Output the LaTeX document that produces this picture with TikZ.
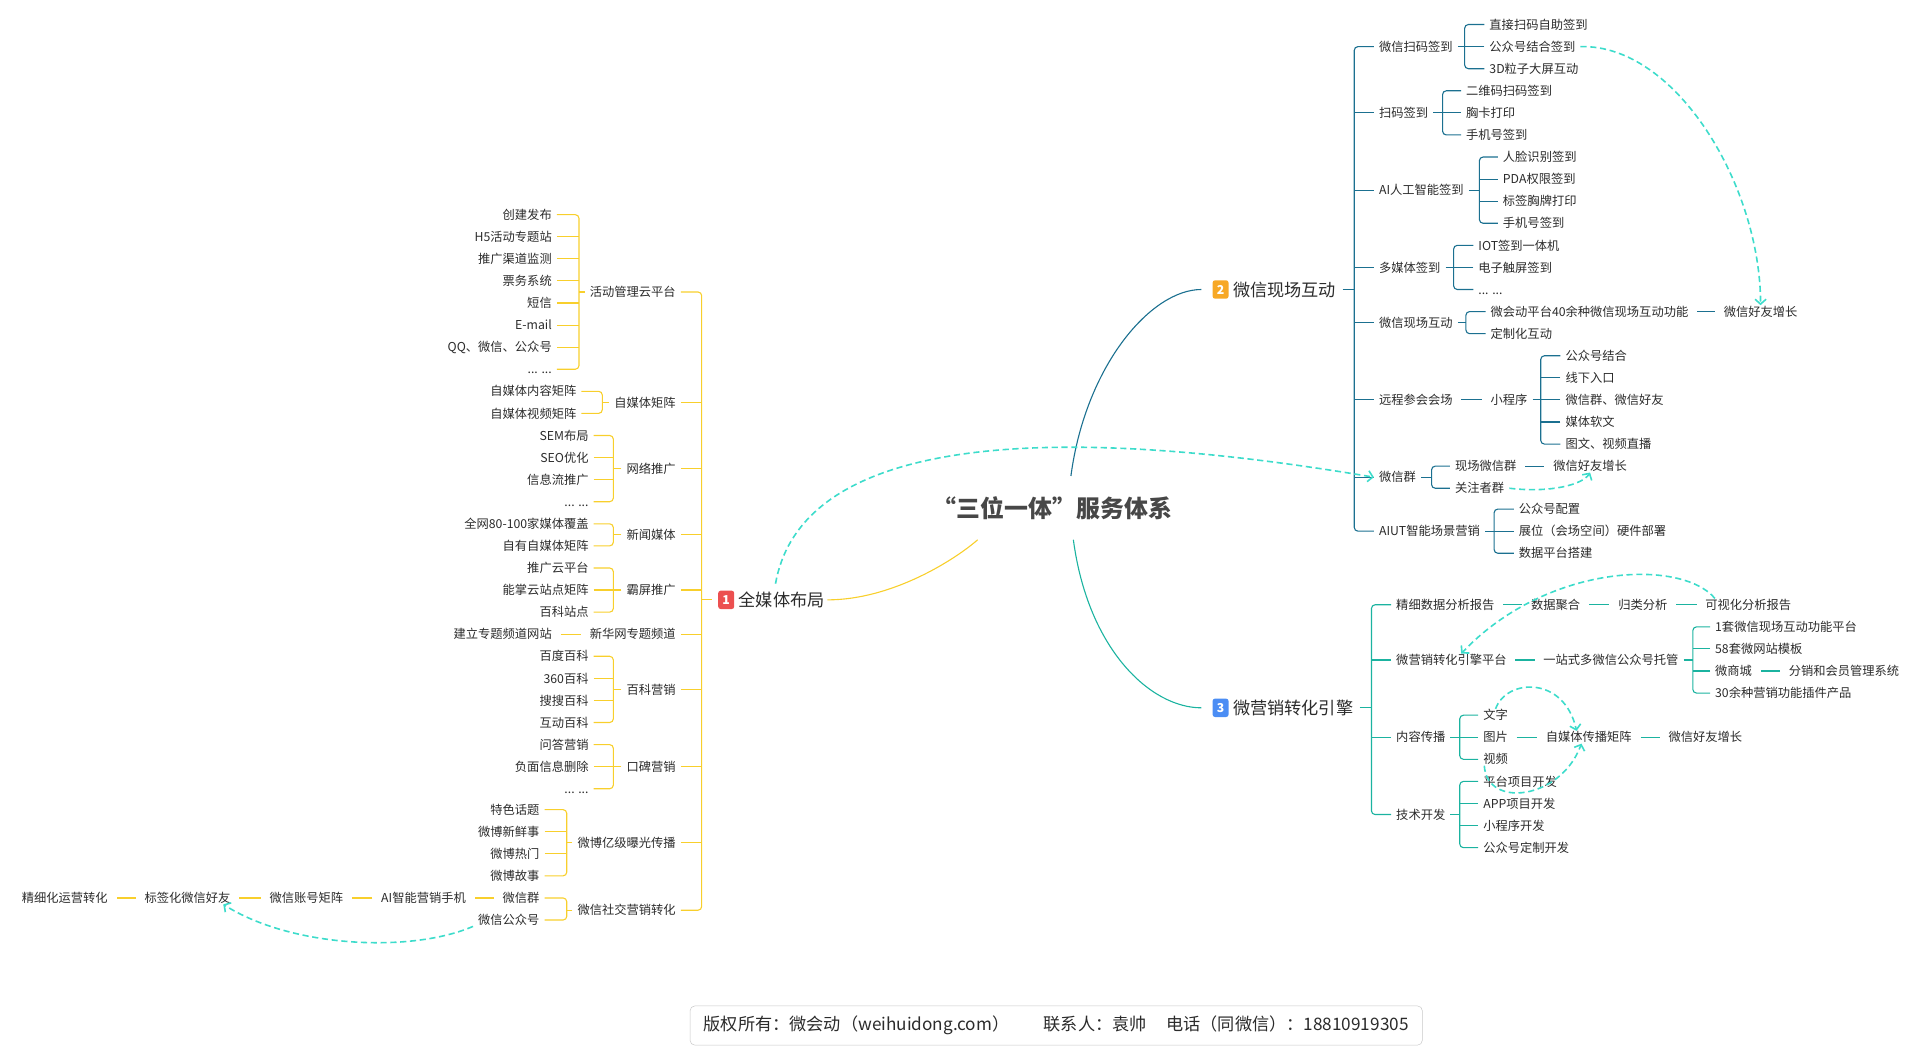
\documentclass[tikz,border=0pt]{standalone}
\usepackage{fontspec}
\setmainfont{Noto Sans CJK SC}
\usepackage{xcolor}
\usetikzlibrary{arrows.meta,calc}
\definecolor{ylw}{HTML}{F8CF2C}
\definecolor{tealdk}{HTML}{1B7090}
\definecolor{tealgr}{HTML}{1BB3A0}
\definecolor{dashc}{HTML}{3DDCCB}
\definecolor{bred}{HTML}{EC5050}
\definecolor{borg}{HTML}{F7A825}
\definecolor{bblu}{HTML}{4B8DF4}
\definecolor{txt}{HTML}{2B2B2B}
\tikzset{
	leaf/.style={font=\fontsize{10}{12}\selectfont, text=txt, inner xsep=4pt, inner ysep=0pt, text height=8.8pt, text depth=1.2pt},
	lleaf/.style={leaf, anchor=east},
	rleaf/.style={leaf, anchor=west},
	main/.style={font=\fontsize{14}{16}\selectfont, text=txt, inner xsep=2pt, inner ysep=0pt, text height=12.3pt, text depth=1.7pt, anchor=west},
	badge/.style={fill=#1, rounded corners=2pt, text=white, font=\fontsize{10}{12}\selectfont\bfseries, minimum width=13pt, minimum height=15pt, inner sep=0pt},
	br1/.style={draw=ylw, line width=0.9pt, rounded corners=3pt},
	br2/.style={draw=tealdk, line width=0.9pt, rounded corners=3pt},
	br3/.style={draw=tealgr, line width=0.9pt, rounded corners=3pt},
	gap/.style={shorten <=3pt, shorten >=3pt},
	hint/.style={draw=dashc, line width=1.3pt, dash pattern=on 5pt off 3pt, -{Straight Barb[length=4pt,width=9pt]}}
}

\begin{document}
\begin{tikzpicture}[x=1pt,y=-1pt]
	\useasboundingbox (0,0) rectangle (1566,865);

	% centre and the three branches
	\node[font=\fontsize{19.5}{21}\selectfont\bfseries, text=black!72, inner sep=0pt] (ti) at (858,414) {“三位一体”服务体系};
	\node[badge=bred] (b1) at (592,489) {1};
	\node[main] (m1) at (600,489) {全媒体布局};
	\node[badge=borg] (b2) at (995,236) {2};
	\node[main] (m2) at (1003,236) {微信现场互动};
	\node[badge=bblu] (b3) at (995,577) {3};
	\node[main] (m3) at (1003,577) {微营销转化引擎};

	\draw[ylw, line width=0.9pt] ($(ti)+(-61,26)$) .. controls +(-17,15) and +(54,0) .. (m1.east);
	\draw[tealdk, line width=0.9pt, shorten >=9pt] ($(ti)+(15,-26)$) .. controls +(12,-90) and +(-50,0) .. (b2.west);
	\draw[tealgr, line width=0.9pt, shorten >=9pt] ($(ti)+(17,26)$) .. controls +(12,90) and +(-50,0) .. (b3.west);

	% branch 1
	\node[lleaf] (a1) at (555,238) {活动管理云平台};
	\node[lleaf] (a2) at (555,328) {自媒体矩阵};
	\node[lleaf] (a3) at (555,382) {网络推广};
	\node[lleaf] (a4) at (555,436) {新闻媒体};
	\node[lleaf] (a5) at (555,481) {霸屏推广};
	\node[lleaf] (a6) at (555,517) {新华网专题频道};
	\node[lleaf] (a7) at (555,562) {百科营销};
	\node[lleaf] (a8) at (555,625) {口碑营销};
	\node[lleaf] (a9) at (555,687) {微博亿级曝光传播};
	\node[lleaf] (a10) at (555,742) {微信社交营销转化};

	\node[lleaf] (a1-1) at (454,175) {创建发布};
	\node[lleaf] (a1-2) at (454,193) {H5活动专题站};
	\node[lleaf] (a1-3) at (454,211) {推广渠道监测};
	\node[lleaf] (a1-4) at (454,229) {票务系统};
	\node[lleaf] (a1-5) at (454,247) {短信};
	\node[lleaf] (a1-6) at (454,265) {E-mail};
	\node[lleaf] (a1-7) at (454,283) {QQ、微信、公众号};
	\node[lleaf] (a1-8) at (454,301) {... ...};
	\node[lleaf] (a2-1) at (474,319) {自媒体内容矩阵};
	\node[lleaf] (a2-2) at (474,337) {自媒体视频矩阵};
	\node[lleaf] (a3-1) at (484,355) {SEM布局};
	\node[lleaf] (a3-2) at (484,373) {SEO优化};
	\node[lleaf] (a3-3) at (484,391) {信息流推广};
	\node[lleaf] (a3-4) at (484,409) {... ...};
	\node[lleaf] (a4-1) at (484,427) {全网80-100家媒体覆盖};
	\node[lleaf] (a4-2) at (484,445) {自有自媒体矩阵};
	\node[lleaf] (a5-1) at (484,463) {推广云平台};
	\node[lleaf] (a5-2) at (484,481) {能掌云站点矩阵};
	\node[lleaf] (a5-3) at (484,499) {百科站点};
	\node[lleaf] (a6-1) at (454,517) {建立专题频道网站};
	\node[lleaf] (a7-1) at (484,535) {百度百科};
	\node[lleaf] (a7-2) at (484,553) {360百科};
	\node[lleaf] (a7-3) at (484,571) {搜搜百科};
	\node[lleaf] (a7-4) at (484,589) {互动百科};
	\node[lleaf] (a8-1) at (484,607) {问答营销};
	\node[lleaf] (a8-2) at (484,625) {负面信息删除};
	\node[lleaf] (a8-3) at (484,643) {... ...};
	\node[lleaf] (a9-1) at (444,660) {特色话题};
	\node[lleaf] (a9-2) at (444,678) {微博新鲜事};
	\node[lleaf] (a9-3) at (444,696) {微博热门};
	\node[lleaf] (a9-4) at (444,714) {微博故事};
	\node[lleaf] (a10-1) at (444,732) {微信群};
	\node[lleaf] (a10-2) at (444,750) {微信公众号};
	\node[lleaf] (c4) at (384,732) {AI智能营销手机};
	\node[lleaf] (c3) at (284,732) {微信账号矩阵};
	\node[lleaf] (c2) at (192,732) {标签化微信好友};
	\node[lleaf] (c1) at (92,732) {精细化运营转化};

	\coordinate (t1) at (572,489);
	\draw[br1] (a1.east) -| (t1) |- (a10.east);
	\draw[br1] (a2.east) -- (a2.east -| t1) (a3.east) -- (a3.east -| t1) (a4.east) -- (a4.east -| t1) (a5.east) -- (a5.east -| t1) (a6.east) -- (a6.east -| t1) (a7.east) -- (a7.east -| t1) (a8.east) -- (a8.east -| t1) (a9.east) -- (a9.east -| t1);
	\draw[br1, shorten >=5pt] (t1) -- (b1.west);

	\coordinate (ka1) at (472,238);
	\draw[br1] (a1.west) -- (ka1);
	\draw[br1] (a1-1.east) -| (ka1) |- (a1-8.east);
	\draw[br1] (a1-2.east) -- (a1-2.east -| ka1) (a1-3.east) -- (a1-3.east -| ka1) (a1-4.east) -- (a1-4.east -| ka1) (a1-5.east) -- (a1-5.east -| ka1) (a1-6.east) -- (a1-6.east -| ka1) (a1-7.east) -- (a1-7.east -| ka1);
	\coordinate (ka2) at (491,328);
	\draw[br1] (a2.west) -- (ka2);
	\draw[br1] (a2-1.east) -| (ka2) |- (a2-2.east);
	\coordinate (ka3) at (500,382);
	\draw[br1] (a3.west) -- (ka3);
	\draw[br1] (a3-1.east) -| (ka3) |- (a3-4.east);
	\draw[br1] (a3-2.east) -- (a3-2.east -| ka3) (a3-3.east) -- (a3-3.east -| ka3);
	\coordinate (ka4) at (500,436);
	\draw[br1] (a4.west) -- (ka4);
	\draw[br1] (a4-1.east) -| (ka4) |- (a4-2.east);
	\coordinate (ka5) at (500,481);
	\draw[br1] (a5.west) -- (ka5);
	\draw[br1] (a5-1.east) -| (ka5) |- (a5-3.east);
	\draw[br1] (a5-2.east) -- (ka5);
	\draw[br1, gap] (a6-1.east) -- (a6.west);
	\coordinate (ka7) at (500,562);
	\draw[br1] (a7.west) -- (ka7);
	\draw[br1] (a7-1.east) -| (ka7) |- (a7-4.east);
	\draw[br1] (a7-2.east) -- (a7-2.east -| ka7) (a7-3.east) -- (a7-3.east -| ka7);
	\coordinate (ka8) at (500,625);
	\draw[br1] (a8.west) -- (ka8);
	\draw[br1] (a8-1.east) -| (ka8) |- (a8-3.east);
	\draw[br1] (a8-2.east) -- (ka8);
	\coordinate (ka9) at (462,687);
	\draw[br1] (a9.west) -- (ka9);
	\draw[br1] (a9-1.east) -| (ka9) |- (a9-4.east);
	\draw[br1] (a9-2.east) -- (a9-2.east -| ka9) (a9-3.east) -- (a9-3.east -| ka9);
	\coordinate (ka10) at (462,742);
	\draw[br1] (a10.west) -- (ka10);
	\draw[br1] (a10-1.east) -| (ka10) |- (a10-2.east);
	\draw[br1, gap] (a10-1.west) -- (c4.east);
	\draw[br1, gap] (c4.west) -- (c3.east);
	\draw[br1, gap] (c3.west) -- (c2.east);
	\draw[br1, gap] (c2.west) -- (c1.east);

	% branch 2
	\node[rleaf] (s1) at (1120,38) {微信扫码签到};
	\node[rleaf] (s2) at (1120,92) {扫码签到};
	\node[rleaf] (s3) at (1120,155) {AI人工智能签到};
	\node[rleaf] (s4) at (1120,218) {多媒体签到};
	\node[rleaf] (s5) at (1120,263) {微信现场互动};
	\node[rleaf] (s6) at (1120,326) {远程参会会场};
	\node[rleaf] (s7) at (1120,389) {微信群};
	\node[rleaf] (s8) at (1120,433) {AIUT智能场景营销};

	\node[rleaf] (s1-1) at (1210,20) {直接扫码自助签到};
	\node[rleaf] (s1-2) at (1210,38) {公众号结合签到};
	\node[rleaf] (s1-3) at (1210,56) {3D粒子大屏互动};
	\node[rleaf] (s2-1) at (1191,74) {二维码扫码签到};
	\node[rleaf] (s2-2) at (1191,92) {胸卡打印};
	\node[rleaf] (s2-3) at (1191,110) {手机号签到};
	\node[rleaf] (s3-1) at (1221,128) {人脸识别签到};
	\node[rleaf] (s3-2) at (1221,146) {PDA权限签到};
	\node[rleaf] (s3-3) at (1221,164) {标签胸牌打印};
	\node[rleaf] (s3-4) at (1221,182) {手机号签到};
	\node[rleaf] (s4-1) at (1201,200) {IOT签到一体机};
	\node[rleaf] (s4-2) at (1201,218) {电子触屏签到};
	\node[rleaf] (s4-3) at (1201,236) {... ...};
	\node[rleaf] (s5-1) at (1211,254) {微会动平台40余种微信现场互动功能};
	\node[rleaf] (s5-2) at (1211,272) {定制化互动};
	\node[rleaf] (s5-x) at (1401,254) {微信好友增长};
	\node[rleaf] (s6-m) at (1211,326) {小程序};
	\node[rleaf] (s6-1) at (1272,290) {公众号结合};
	\node[rleaf] (s6-2) at (1272,308) {线下入口};
	\node[rleaf] (s6-3) at (1272,326) {微信群、微信好友};
	\node[rleaf] (s6-4) at (1272,344) {媒体软文};
	\node[rleaf] (s6-5) at (1272,362) {图文、视频直播};
	\node[rleaf] (s7-1) at (1182,380) {现场微信群};
	\node[rleaf] (s7-2) at (1182,398) {关注者群};
	\node[rleaf] (s7-x) at (1262,380) {微信好友增长};
	\node[rleaf] (s8-1) at (1234,415) {公众号配置};
	\node[rleaf] (s8-2) at (1234,433) {展位（会场空间）硬件部署};
	\node[rleaf] (s8-3) at (1234,451) {数据平台搭建};

	\coordinate (t2) at (1104,236);
	\draw[br2] (s1.west) -| (t2) |- (s8.west);
	\draw[br2] (s2.west) -- (s2.west -| t2) (s3.west) -- (s3.west -| t2) (s4.west) -- (s4.west -| t2) (s5.west) -- (s5.west -| t2) (s6.west) -- (s6.west -| t2) (s7.west) -- (s7.west -| t2);
	\draw[br2, shorten <=3pt] (m2.east) -- (t2);

	\coordinate (ks1) at (1194,38);
	\draw[br2] (s1.east) -- (ks1);
	\draw[br2] (s1-1.west) -| (ks1) |- (s1-3.west);
	\draw[br2] (s1-2.west) -- (ks1);
	\coordinate (ks2) at (1176,92);
	\draw[br2] (s2.east) -- (ks2);
	\draw[br2] (s2-1.west) -| (ks2) |- (s2-3.west);
	\draw[br2] (s2-2.west) -- (ks2);
	\coordinate (ks3) at (1206,155);
	\draw[br2] (s3.east) -- (ks3);
	\draw[br2] (s3-1.west) -| (ks3) |- (s3-4.west);
	\draw[br2] (s3-2.west) -- (s3-2.west -| ks3) (s3-3.west) -- (s3-3.west -| ks3);
	\coordinate (ks4) at (1185,218);
	\draw[br2] (s4.east) -- (ks4);
	\draw[br2] (s4-1.west) -| (ks4) |- (s4-3.west);
	\draw[br2] (s4-2.west) -- (ks4);
	\coordinate (ks5) at (1195,263);
	\draw[br2] (s5.east) -- (ks5);
	\draw[br2] (s5-1.west) -| (ks5) |- (s5-2.west);
	\draw[br2, gap] (s5-1.east) -- (s5-x.west);
	\draw[br2, gap] (s6.east) -- (s6-m.west);
	\coordinate (ks6) at (1256,326);
	\draw[br2] (s6-m.east) -- (ks6);
	\draw[br2] (s6-1.west) -| (ks6) |- (s6-5.west);
	\draw[br2] (s6-2.west) -- (s6-2.west -| ks6) (s6-3.west) -- (ks6) (s6-4.west) -- (s6-4.west -| ks6);
	\coordinate (ks7) at (1167,389);
	\draw[br2] (s7.east) -- (ks7);
	\draw[br2] (s7-1.west) -| (ks7) |- (s7-2.west);
	\draw[br2, gap] (s7-1.east) -- (s7-x.west);
	\coordinate (ks8) at (1218,433);
	\draw[br2] (s8.east) -- (ks8);
	\draw[br2] (s8-1.west) -| (ks8) |- (s8-3.west);
	\draw[br2] (s8-2.west) -- (ks8);

	% branch 3
	\node[rleaf] (r1) at (1134,493) {精细数据分析报告};
	\node[rleaf] (r2) at (1134,538) {微营销转化引擎平台};
	\node[rleaf] (r3) at (1134,601) {内容传播};
	\node[rleaf] (r4) at (1134,664) {技术开发};

	\node[rleaf] (r1-1) at (1244,493) {数据聚合};
	\node[rleaf] (r1-2) at (1315,493) {归类分析};
	\node[rleaf] (r1-3) at (1386,493) {可视化分析报告};
	\node[rleaf] (r2-m) at (1254,538) {一站式多微信公众号托管};
	\node[rleaf] (r2-1) at (1394,511) {1套微信现场互动功能平台};
	\node[rleaf] (r2-2) at (1394,529) {58套微网站模板};
	\node[rleaf] (r2-3) at (1394,547) {微商城};
	\node[rleaf] (r2-4) at (1394,565) {30余种营销功能插件产品};
	\node[rleaf] (r2-x) at (1454,547) {分销和会员管理系统};
	\node[rleaf] (r3-1) at (1205,583) {文字};
	\node[rleaf] (r3-2) at (1205,601) {图片};
	\node[rleaf] (r3-3) at (1205,619) {视频};
	\node[rleaf] (r3-m) at (1256,601) {自媒体传播矩阵};
	\node[rleaf] (r3-x) at (1356,601) {微信好友增长};
	\node[rleaf] (r4-1) at (1205,637) {平台项目开发};
	\node[rleaf] (r4-2) at (1205,655) {APP项目开发};
	\node[rleaf] (r4-3) at (1205,673) {小程序开发};
	\node[rleaf] (r4-4) at (1205,691) {公众号定制开发};

	\coordinate (t3) at (1118,577);
	\draw[br3] (r1.west) -| (t3) |- (r4.west);
	\draw[br3] (r2.west) -- (r2.west -| t3) (r3.west) -- (r3.west -| t3);
	\draw[br3, shorten <=3pt] (m3.east) -- (t3);

	\draw[br3, gap] (r1.east) -- (r1-1.west);
	\draw[br3, gap] (r1-1.east) -- (r1-2.west);
	\draw[br3, gap] (r1-2.east) -- (r1-3.west);
	\draw[br3, gap] (r2.east) -- (r2-m.west);
	\coordinate (kr2) at (1380,538);
	\draw[br3] (r2-m.east) -- (kr2);
	\draw[br3] (r2-1.west) -| (kr2) |- (r2-4.west);
	\draw[br3] (r2-2.west) -- (r2-2.west -| kr2) (r2-3.west) -- (r2-3.west -| kr2);
	\draw[br3, gap] (r2-3.east) -- (r2-x.west);
	\coordinate (kr3) at (1190,601);
	\draw[br3] (r3.east) -- (kr3);
	\draw[br3] (r3-1.west) -| (kr3) |- (r3-3.west);
	\draw[br3] (r3-2.west) -- (kr3);
	\draw[br3, gap] (r3-2.east) -- (r3-m.west);
	\draw[br3, gap] (r3-m.east) -- (r3-x.west);
	\coordinate (kr4) at (1190,664);
	\draw[br3] (r4.east) -- (kr4);
	\draw[br3] (r4-1.west) -| (kr4) |- (r4-4.west);
	\draw[br3] (r4-2.west) -- (r4-2.west -| kr4) (r4-3.west) -- (r4-3.west -| kr4);

	% dashed hints
	\draw[hint] ($(m1.north)+(-5,-6)$) .. controls +(18,-102) and +(-320,-54) .. (s7.west);
	\draw[hint] (a10-2.south west) .. controls +(-51,22) and +(55,35) .. ($(c2.south east)+(-10,0)$);
	\draw[hint] (s1-2.east) .. controls +(78,-2) and +(0,-97) .. (s5-x.north);
	\draw[hint] (s7-2.east) .. controls +(33,4) and +(-6,10) .. (s7-x.south);
	\draw[hint] ($(r1-3.north west)+(12,0)$) .. controls +(-28,-33) and +(69,-73) .. ($(r2.north)+(8,0)$);
	\draw[hint] (r3-1.north) .. controls +(9,-25) and +(-10,-45) .. ($(r3-m.north)+(-10,0)$);
	\draw[hint] ($(r3-3.south west)+(5,0)$) .. controls +(2,35) and +(-17,46) .. ($(r3-m.south)+(-6,0)$);

	% footer
	\node[draw=black!22, rounded corners=4pt, minimum width=597pt, minimum height=32pt, font=\fontsize{14}{16}\selectfont, text=txt] (ft) at (861,836) {版权所有：微会动（weihuidong.com）\hspace{28pt}联系人：袁帅\hspace{16pt}电话（同微信）：18810919305};
\end{tikzpicture}
\end{document}
